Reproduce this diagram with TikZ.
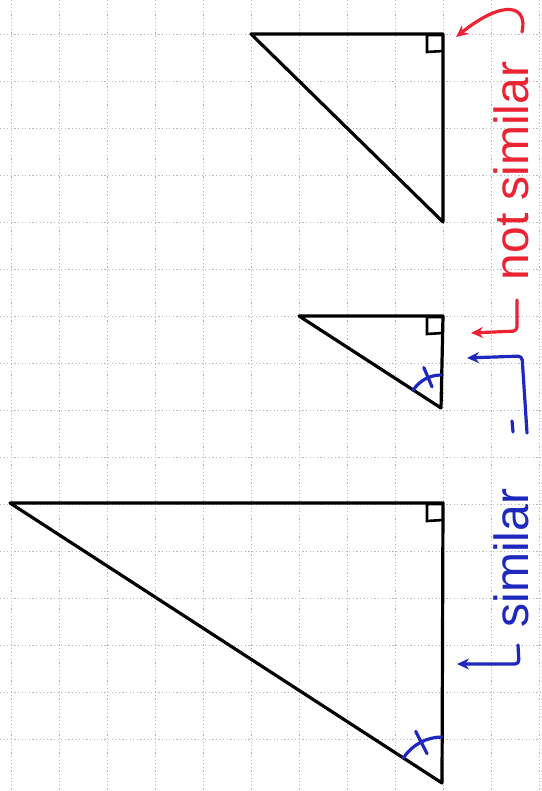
\documentclass[tikz,border=0pt]{standalone}
\usepackage{fontspec}
\setmainfont{Liberation Sans}
\usepackage{xcolor}
\usetikzlibrary{arrows.meta, positioning, calc}
\definecolor{penblue}{RGB}{30,40,190}
\definecolor{penred}{RGB}{235,35,50}

\begin{document}
\begin{tikzpicture}[x=1pt, y=-1pt,
    gridline/.style={gray!55, line width=0.7pt, dash pattern=on 1.2pt off 2.4pt},
    tri/.style={line width=3.2pt, line join=round, line cap=round},
    rtmark/.style={line width=2.6pt},
    angmark/.style={penblue, line width=3.2pt, line cap=round},
    note/.style={rotate=90, inner sep=0pt, font=\fontsize{48}{52}\selectfont},
    bracket/.style={line width=3.2pt, line cap=round, rounded corners=4pt,
        -{Stealth[length=12pt, width=11pt]}}]
    \useasboundingbox[fill=white] (0,0) rectangle (541,791);
    % squared paper
    \foreach \x in {11,59,...,539}
        \draw[gridline] (\x,0) -- (\x,791);
    \foreach \y in {34,81,...,785}
        \draw[gridline] (0,\y) -- (541,\y);
    % triangles
    \coordinate (bigA) at (10,503);
    \coordinate (bigC) at (443,503);
    \coordinate (bigB) at (442,783);
    \coordinate (midA) at (299,316);
    \coordinate (midC) at (443,316);
    \coordinate (midB) at (441,408);
    \coordinate (topA) at (251,34);
    \coordinate (topC) at (443,34);
    \coordinate (topB) at (443,222);
    \foreach \t in {big,mid,top} {
        \draw[tri] (\t A) -- (\t C) -- (\t B) -- cycle;
        \draw[rtmark] ($(\t C)+(0,1)$) -- ++(-16,0) -- ++(0,17) -- ++(16,-1);
    }
    % equal angles
    \draw[angmark] (bigB) ++(270:46) arc[start angle=270, end angle=213, radius=46];
    \draw[angmark] (bigB) ++(243:33) -- ++(243:25);
    \draw[angmark] (midB) ++(270:33) arc[start angle=270, end angle=213, radius=33];
    \draw[angmark] (midB) ++(247:23) -- ++(247:21);
    % notes
    \node[note, text=penblue] (simtext) at (511,558) {similar};
    \node[note, text=penred] (notsimtext) at (511,171) {not similar};
    \coordinate (bigpt) at (457,664);
    \coordinate (midpt) at (467,358);
    \coordinate (midpt2) at (471,333);
    \coordinate (toppt) at (456,37);
    \draw[bracket, penblue] (518,645) -- (519,664) -- (bigpt);
    \draw[bracket, penblue] (527,433) -- (522,356) -- (midpt);
    \draw[angmark] (512,421) -- (513,432);
    \draw[bracket, penred] (517,300) -- (517,331) -- (midpt2);
    \draw[penred, line width=3.2pt, line cap=round, -{Stealth[length=12pt, width=11pt]}]
        (522,32) .. controls (528,6) and (505,-2) .. (toppt);
\end{tikzpicture}
\end{document}
